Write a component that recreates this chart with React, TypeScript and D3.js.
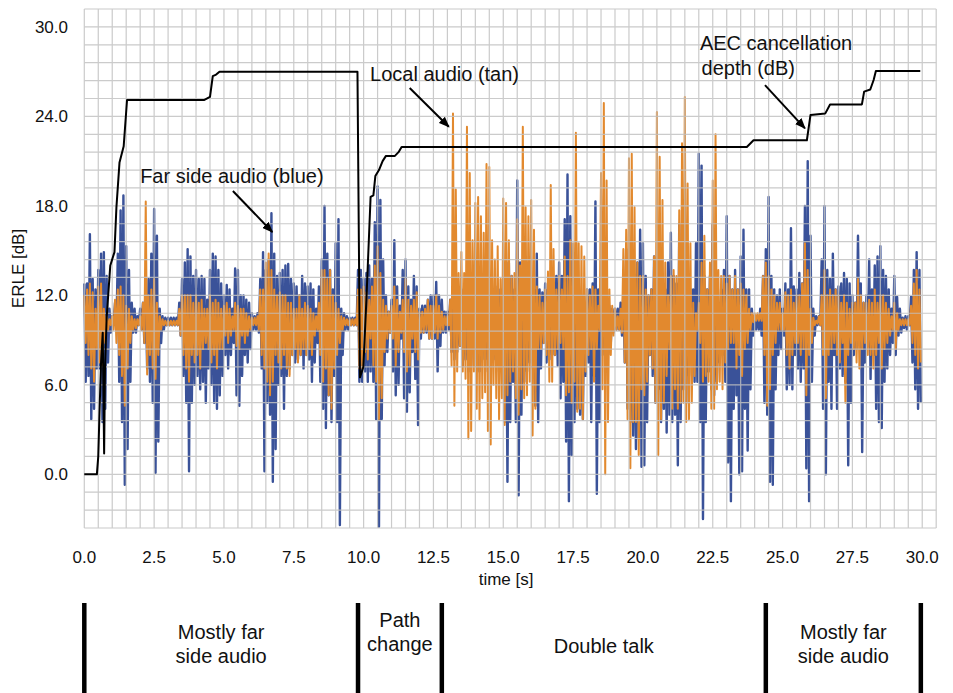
import * as d3 from 'd3';

// ERLE traces, one bin per 0.1 s: upper and lower excursion of the waveform in each bin
const STEP = 0.1;

const blueHi = [
  12.8, 12.8, 16.1, 13.1, 12.4, 13.7, 14.8, 14.9, 13.3, 11.1,
  10.6, 11.5, 14.8, 17.7, 18.7, 15.3, 13.7, 11.5, 11.1, 10.6,
  11.1, 11.5, 12.2, 13.1, 14.8, 17.8, 16.0, 11.1, 10.6, 10.5,
  10.5, 10.5, 10.5, 10.5, 11.5, 13.1, 14.2, 15.1, 14.6, 13.3,
  13.7, 13.1, 13.3, 13.1, 11.7, 13.7, 14.8, 14.6, 13.7, 12.8,
  12.0, 12.7, 12.4, 11.1, 13.8, 13.7, 12.0, 12.0, 11.7, 11.5,
  10.8, 10.6, 10.8, 13.1, 14.9, 13.7, 14.4, 17.5, 14.8, 13.3,
  13.5, 13.7, 14.0, 14.1, 13.1, 12.8, 12.6, 12.0, 13.3, 12.8,
  12.6, 12.8, 12.4, 11.1, 12.6, 14.4, 18.0, 14.8, 13.7, 12.4,
  15.5, 17.1, 11.1, 10.8, 10.6, 10.5, 10.5, 10.5, 13.7, 13.7,
  13.1, 13.5, 14.0, 13.1, 16.9, 19.3, 18.4, 14.4, 12.0, 10.9,
  11.7, 15.7, 12.6, 11.3, 13.7, 14.4, 12.6, 11.7, 13.3, 12.6,
  11.1, 11.3, 11.3, 11.7, 12.0, 12.0, 12.9, 12.0, 11.7, 10.9,
  10.9, 11.7, 12.4, 12.0, 11.7, 12.4, 12.0, 12.6, 12.4, 12.0,
  12.4, 12.6, 12.0, 12.4, 12.9, 12.6, 12.0, 12.4, 12.6, 12.4,
  12.4, 14.2, 14.2, 13.3, 12.4, 19.7, 14.2, 13.3, 12.4, 12.0,
  12.4, 12.4, 14.8, 12.4, 12.2, 12.8, 12.4, 12.0, 12.4, 13.3,
  14.2, 13.3, 17.1, 20.1, 17.3, 13.3, 13.3, 12.4, 12.0, 11.5,
  12.4, 12.4, 12.8, 18.3, 12.4, 12.4, 11.5, 12.4, 11.3, 11.1,
  11.1, 11.1, 11.5, 12.4, 15.1, 12.4, 13.3, 12.4, 14.2, 16.4,
  15.5, 13.3, 12.0, 12.4, 14.6, 13.3, 13.3, 12.8, 12.4, 14.2,
  16.2, 13.3, 12.8, 16.8, 12.4, 13.3, 13.7, 12.4, 12.4, 15.5,
  21.5, 20.7, 13.3, 12.4, 13.3, 16.8, 12.4, 11.5, 12.4, 13.7,
  17.3, 13.3, 12.4, 13.7, 12.4, 14.6, 16.4, 12.4, 12.4, 11.1,
  10.6, 10.6, 11.1, 13.3, 15.1, 18.6, 13.3, 12.4, 12.0, 12.4,
  11.1, 12.8, 12.4, 16.5, 12.6, 12.4, 13.5, 12.8, 18.0, 21.0,
  16.0, 11.1, 10.6, 10.6, 14.4, 18.0, 13.7, 13.1, 14.8, 12.4,
  12.6, 12.8, 13.5, 13.1, 12.8, 12.0, 11.5, 16.0, 12.8, 11.5,
  12.0, 14.4, 12.4, 14.0, 14.6, 15.3, 13.7, 13.3, 12.4, 11.1,
  13.3, 11.9, 11.1, 10.5, 10.6, 10.6, 11.9, 13.7, 14.9, 13.7,
];

const blueLo = [
  6.2, 6.6, 3.7, 4.4, 7.1, 7.1, 3.5, 4.4, 7.5, 9.5,
  10.0, 9.7, 6.2, 3.5, -0.7, 1.7, 6.2, 9.5, 9.5, 10.0,
  9.7, 8.8, 7.1, 6.2, 4.8, 0.1, 2.2, 8.8, 9.7, 10.0,
  10.0, 10.0, 10.0, 10.0, 9.3, 6.6, 4.8, 0.2, 4.8, 6.0,
  6.6, 5.7, 6.2, 4.8, 7.1, 6.0, 4.8, 4.4, 5.3, 6.6,
  8.0, 7.1, 8.0, 8.8, 5.3, 4.6, 6.6, 8.0, 7.5, 8.4,
  9.7, 9.7, 9.5, 7.1, 0.2, 4.8, 4.0, -0.5, 1.7, 6.0,
  6.6, 4.4, 6.6, 7.1, 8.0, 7.5, 7.7, 8.0, 7.1, 8.0,
  7.7, 6.2, 7.5, 8.8, 6.2, 4.4, 3.1, 5.3, 3.5, 6.6,
  3.5, -3.4, 8.0, 9.7, 9.7, 10.0, 10.0, 10.0, 6.2, 6.2,
  6.9, 6.2, 6.9, 6.2, 3.7, -3.5, 3.7, 7.3, 8.2, 9.5,
  6.9, 5.3, 6.0, 9.1, 5.1, 4.2, 5.5, 8.2, 6.4, 3.3,
  9.1, 9.5, 9.5, 9.1, 9.1, 9.1, 6.9, 8.6, 9.5, 9.5,
  9.7, 8.2, 7.7, 8.2, 8.6, 7.3, 7.7, 6.9, 7.3, 8.2,
  7.3, 6.9, 7.7, 7.7, 6.9, 6.4, 7.7, 7.3, 6.9, 7.3,
  3.5, -0.5, 3.5, 6.2, 3.5, -1.4, 4.0, 6.2, 6.9, 7.5,
  7.1, 4.6, 3.5, 7.1, 8.8, 7.5, 7.7, 8.0, 8.0, 7.3,
  5.1, 6.2, 2.2, -1.8, 1.3, 3.5, 4.4, 4.0, 3.7, 6.6,
  7.5, 3.5, 6.6, -1.3, 3.5, 8.0, 8.8, 8.0, 8.8, 9.5,
  9.7, 9.7, 9.3, 7.5, 4.4, 3.5, 2.6, 1.7, 2.4, 0.5,
  0.6, 3.5, 8.0, 6.6, 4.8, 5.7, 3.5, 4.4, 2.8, 4.0,
  3.5, 4.0, 0.6, 3.5, 5.7, 4.8, 6.6, 7.5, 6.2, 6.2,
  3.5, -3.0, 3.5, 6.9, 5.7, 5.3, 6.2, 7.5, 8.0, 6.2,
  0.8, -1.8, 4.4, 5.3, 0.0, 0.2, 4.4, 1.6, 5.7, 9.3,
  9.7, 9.7, 9.3, 4.8, 4.0, -0.5, -0.7, 5.7, 8.0, 8.4,
  9.3, 5.7, 6.0, 5.7, 8.0, 7.1, 6.2, 7.1, 0.4, -1.8,
  6.2, 9.3, 10.0, 10.0, 4.4, 0.0, 6.2, 4.4, 8.0, 4.4,
  7.1, 6.6, 6.2, 0.6, 4.8, 8.0, 8.4, 8.8, 1.5, 7.5,
  8.8, 6.4, 8.0, 4.4, 3.5, 3.1, 6.2, 7.1, 8.0, 8.8,
  8.0, 9.3, 9.5, 9.8, 9.7, 10.0, 7.5, 5.7, 4.4, 4.8,
];

const tanHi = [
  12.0, 12.4, 12.8, 12.2, 11.1, 12.6, 12.8, 11.1, 10.6, 10.4,
  10.6, 11.7, 12.4, 12.6, 12.0, 11.3, 11.1, 10.6, 10.4, 10.4,
  10.6, 11.5, 18.3, 12.0, 12.4, 13.1, 11.5, 10.6, 10.4, 10.3,
  10.3, 10.3, 10.3, 10.3, 11.1, 12.0, 12.0, 12.0, 12.0, 11.5,
  12.0, 11.5, 11.7, 11.1, 11.1, 12.0, 11.5, 11.7, 11.5, 11.1,
  11.3, 11.5, 11.1, 10.6, 11.5, 11.3, 11.1, 11.1, 10.8, 10.6,
  10.5, 10.5, 10.6, 12.4, 12.4, 14.2, 14.8, 13.7, 12.4, 12.0,
  12.2, 12.0, 12.0, 11.5, 11.5, 11.1, 11.1, 12.0, 11.1, 11.5,
  11.3, 11.1, 10.8, 10.6, 11.5, 13.7, 13.7, 13.1, 13.7, 12.0,
  11.5, 11.1, 10.6, 10.5, 10.4, 10.4, 10.4, 10.4, 12.4, 12.4,
  12.6, 12.2, 11.7, 12.6, 14.0, 15.3, 13.5, 11.7, 11.3, 10.9,
  11.3, 12.6, 11.7, 10.9, 11.7, 13.1, 11.7, 11.3, 11.7, 12.2,
  10.9, 10.9, 11.1, 11.7, 11.3, 11.3, 12.0, 11.3, 10.9, 10.6,
  10.6, 11.7, 24.2, 19.1, 13.5, 14.9, 13.5, 23.3, 20.2, 15.7,
  18.2, 18.6, 17.3, 16.2, 20.8, 20.6, 15.7, 14.4, 15.3, 13.1,
  18.5, 18.2, 15.7, 13.3, 13.5, 17.1, 14.0, 23.3, 17.9, 17.3,
  18.4, 16.4, 12.6, 12.0, 11.5, 12.4, 13.6, 19.4, 15.1, 12.4,
  13.3, 12.4, 14.6, 13.3, 15.7, 15.5, 22.9, 15.5, 15.3, 14.6,
  12.4, 12.0, 12.6, 12.4, 11.3, 20.2, 24.9, 19.7, 12.4, 11.3,
  11.1, 10.6, 11.1, 15.1, 16.4, 21.2, 21.5, 17.9, 14.2, 13.3,
  13.3, 12.4, 12.0, 12.4, 14.6, 24.3, 21.3, 18.4, 14.2, 12.0,
  13.3, 13.7, 13.3, 17.7, 22.2, 25.3, 19.5, 15.5, 11.5, 10.8,
  11.5, 14.2, 16.0, 12.4, 14.2, 19.7, 22.8, 13.7, 13.3, 13.3,
  12.8, 13.3, 12.4, 13.3, 12.4, 12.8, 12.4, 12.0, 11.1, 10.8,
  10.8, 10.8, 10.8, 13.3, 14.2, 13.3, 12.4, 12.0, 11.5, 11.5,
  10.8, 12.2, 12.0, 12.4, 11.5, 12.0, 12.0, 12.8, 15.5, 13.7,
  11.1, 10.5, 10.3, 10.6, 12.0, 13.7, 12.0, 12.4, 12.0, 12.4,
  12.0, 11.5, 12.0, 11.5, 11.1, 11.5, 11.5, 13.1, 12.0, 11.5,
  11.5, 11.7, 11.5, 12.4, 11.5, 12.0, 12.0, 11.5, 11.1, 10.6,
  11.5, 10.8, 10.4, 10.4, 10.4, 10.4, 11.3, 12.8, 13.7, 12.4,
];

const tanLo = [
  8.8, 8.0, 7.1, 6.2, 8.4, 7.5, 7.3, 8.8, 9.7, 10.0,
  9.7, 8.8, 8.0, 6.6, 4.6, 7.1, 8.8, 9.7, 9.8, 10.0,
  9.7, 8.8, 6.7, 8.0, 7.1, 6.4, 8.0, 9.7, 10.0, 10.0,
  10.0, 10.0, 10.0, 10.0, 9.3, 8.0, 7.1, 6.2, 8.0, 7.5,
  8.0, 7.1, 8.4, 8.8, 8.4, 7.5, 8.0, 7.1, 8.4, 8.4,
  9.3, 8.8, 9.3, 9.7, 8.6, 8.4, 9.3, 8.8, 9.3, 9.7,
  10.0, 10.0, 9.7, 8.0, 7.1, 6.2, 5.3, 6.2, 8.0, 7.5,
  7.1, 8.0, 7.1, 6.6, 8.0, 8.4, 7.5, 8.0, 8.4, 8.0,
  8.4, 8.0, 9.3, 9.7, 8.0, 6.2, 7.1, 5.3, 4.4, 7.1,
  8.0, 8.8, 9.7, 10.0, 10.0, 10.0, 10.0, 10.0, 7.1, 7.1,
  8.2, 7.7, 9.1, 7.3, 6.2, 3.7, 5.1, 8.2, 9.1, 9.5,
  9.1, 7.3, 8.2, 9.5, 8.2, 6.9, 7.3, 9.1, 8.2, 7.7,
  9.5, 9.5, 9.7, 9.1, 9.1, 9.5, 9.1, 9.5, 9.7, 10.0,
  10.0, 7.3, 4.6, 6.9, 8.6, 6.9, 6.4, 2.4, 2.9, 6.9,
  4.4, 3.7, 5.1, 5.5, 2.9, 2.0, 6.0, 5.1, 3.7, 5.1,
  3.3, 5.3, 6.2, 6.9, 5.1, 4.0, 5.7, 5.1, 5.3, 6.2,
  2.6, 4.4, 8.4, 8.4, 8.8, 8.0, 6.2, 6.2, 8.0, 8.4,
  8.8, 8.4, 5.3, 5.5, 4.8, 6.2, 4.2, 4.4, 3.7, 6.9,
  8.0, 8.4, 6.2, 8.4, 9.7, 5.7, 0.0, 3.5, 8.0, 9.3,
  9.7, 9.7, 9.5, 7.5, 3.7, 0.4, 3.5, 3.5, 1.3, 5.7,
  5.3, 6.2, 8.0, 7.1, 4.8, 1.3, 3.7, 4.8, 6.6, 8.4,
  4.4, 5.7, 4.4, 4.8, 4.8, 3.5, 3.7, 4.8, 6.6, 9.7,
  8.8, 6.2, 6.6, 6.2, 4.4, 4.4, 5.7, 6.2, 5.7, 7.5,
  8.4, 8.8, 8.8, 7.1, 8.0, 6.6, 8.4, 8.8, 9.7, 10.2,
  10.3, 10.3, 10.3, 8.0, 4.6, 5.7, 8.0, 8.8, 9.7, 9.7,
  9.7, 8.0, 7.1, 8.0, 8.8, 8.8, 8.0, 8.4, 5.3, 8.0,
  8.8, 10.0, 10.1, 10.0, 8.0, 5.1, 8.0, 8.4, 8.8, 8.0,
  7.5, 8.8, 4.8, 8.0, 8.8, 8.4, 7.5, 7.1, 8.4, 8.8,
  8.0, 8.0, 7.1, 8.0, 8.8, 7.1, 8.4, 8.8, 9.3, 9.7,
  8.4, 9.7, 10.0, 10.0, 10.0, 10.0, 8.8, 8.0, 7.1, 7.5,
];

// AEC cancellation depth (black line)
const aecTime = [
  0, 0.45, 0.5, 0.55, 0.6, 0.66, 0.71, 0.74, 0.8, 0.93, 1.08, 1.15, 1.26, 1.41, 1.53,
  4.3, 4.5, 4.6, 4.72, 4.84, 9.78, 9.87, 9.99, 10.1, 10.25, 10.35, 10.42, 10.55,
  10.68, 10.8, 11.12, 11.25, 11.36, 23.72, 23.96, 25.87, 26.0, 26.53, 26.7, 27.84,
  27.92, 28.14, 28.26, 28.34, 29.93,
];
const aecDb = [
  0, 0, 1.2, 4.5, 7.5, 9.5, 1.4, 7.0, 10.5, 14.0, 14.9, 17.9, 20.9, 22.0, 25.1,
  25.1, 25.3, 26.7, 26.8, 27.0, 27.0, 6.5, 7.2, 11.7, 18.6, 18.7, 20.0, 20.4,
  21.0, 21.35, 21.35, 21.6, 21.95, 21.95, 22.4, 22.4, 24.1, 24.2, 24.8, 24.8,
  25.66, 25.8, 26.44, 27.04, 27.04,
];

const xTickValues = [0, 2.5, 5, 7.5, 10, 12.5, 15, 17.5, 20, 22.5, 25, 27.5, 30];
const yTickValues = [0, 6, 12, 18, 24, 30];

// phases shown under the chart
const phaseEdges = [0, 9.8, 12.8, 24.4, 29.95];
const phaseLabels = [
  ['Mostly far', 'side audio'],
  ['Path', 'change'],
  ['Double talk'],
  ['Mostly far', 'side audio'],
];

const FONT = '"Liberation Sans", Arial, Helvetica, sans-serif';
const BLUE = '#3a5299';
const TAN = '#e2892e';
const GRID = '#c2c2c2';

function tracePoints(hi: number[], lo: number[]) {
  return hi.flatMap((h, i) => [
    { t: i * STEP, v: h },
    { t: i * STEP + STEP / 2, v: lo[i] },
  ]);
}

export default function App() {
  const width = 953;
  const height = 693;
  const x = d3.scaleLinear().domain([0, 30.5]).range([84.3, 936.2]);
  const y = d3.scaleLinear().domain([-3.6, 31.2]).range([528, 9]);

  const gridX = d3.range(0, 62).map((i) => i * 0.5);
  const gridY = d3.range(0, 30).map((i) => -3.6 + i * 1.2);

  const line = d3
    .line<{ t: number; v: number }>()
    .x((d) => x(d.t))
    .y((d) => y(d.v));

  const bluePath = line(tracePoints(blueHi, blueLo)) ?? undefined;
  const tanPath = line(tracePoints(tanHi, tanLo)) ?? undefined;
  const aecPath = line(aecTime.map((t, i) => ({ t, v: aecDb[i] }))) ?? undefined;

  const [x0, x1] = x.range();
  const [y0, y1] = y.range();

  const annFont = { fontFamily: FONT, fontSize: 20, fill: '#111' };

  return (
    <svg
      width={width}
      height={height}
      style={{ position: 'absolute', left: 0, top: 0, background: '#fff' }}
    >
      <defs>
        <marker
          id="arrow"
          viewBox="0 0 10 8"
          refX={9}
          refY={4}
          markerWidth={5.5}
          markerHeight={4.4}
          orient="auto"
        >
          <path d="M0,0 L10,4 L0,8 z" fill="#000" />
        </marker>
      </defs>

      {/* waveforms */}
      <path d={bluePath} fill="none" stroke={BLUE} strokeWidth={2.4} strokeLinejoin="round" />
      <path d={tanPath} fill="none" stroke={TAN} strokeWidth={2} strokeLinejoin="round" />

      {/* grid sits on top of the traces */}
      <g opacity={0.85}>
        {gridX.map((t) => (
          <line key={`gx-${t}`} x1={x(t)} x2={x(t)} y1={y1} y2={y0} stroke={GRID} strokeWidth={1.2} />
        ))}
        {gridY.map((v) => (
          <line key={`gy-${v}`} x1={x0} x2={x1} y1={y(v)} y2={y(v)} stroke={GRID} strokeWidth={1.2} />
        ))}
      </g>

      <path d={aecPath} fill="none" stroke="#000" strokeWidth={2} strokeLinejoin="round" />

      {/* y ticks */}
      {yTickValues.map((v) => (
        <text
          key={`yt-${v}`}
          x={68}
          y={y(v)}
          dy="0.36em"
          textAnchor="end"
          fontFamily={FONT}
          fontSize={17}
          fill="#111"
        >
          {v.toFixed(1)}
        </text>
      ))}
      {/* x ticks */}
      {xTickValues.map((t) => (
        <text
          key={`xt-${t}`}
          x={x(t)}
          y={563}
          textAnchor="middle"
          fontFamily={FONT}
          fontSize={17}
          fill="#111"
        >
          {t.toFixed(1)}
        </text>
      ))}
      <text
        x={0}
        y={0}
        transform={`translate(24, ${(y0 + y1) / 2}) rotate(-90)`}
        textAnchor="middle"
        fontFamily={FONT}
        fontSize={17}
        fill="#111"
      >
        ERLE [dB]
      </text>
      <text x={x(15.1)} y={585} textAnchor="middle" fontFamily={FONT} fontSize={17} fill="#111">
        time [s]
      </text>

      {/* annotations */}
      <text x={x(2.0)} y={y(19.55)} {...annFont}>
        Far side audio (blue)
      </text>
      <line
        x1={x(5.32)}
        y1={y(19.0)}
        x2={x(6.73)}
        y2={y(16.25)}
        stroke="#000"
        strokeWidth={2}
        markerEnd="url(#arrow)"
      />
      <text x={x(10.23)} y={y(26.4)} {...annFont}>
        Local audio (tan)
      </text>
      <line
        x1={x(11.65)}
        y1={y(25.9)}
        x2={x(13.05)}
        y2={y(23.3)}
        stroke="#000"
        strokeWidth={2}
        markerEnd="url(#arrow)"
      />
      <text x={x(22.04)} y={y(28.45)} {...annFont}>
        AEC cancellation
      </text>
      <text x={x(22.1)} y={y(26.8)} {...annFont}>
        depth (dB)
      </text>
      <line
        x1={x(24.37)}
        y1={y(26.1)}
        x2={x(25.8)}
        y2={y(23.2)}
        stroke="#000"
        strokeWidth={2}
        markerEnd="url(#arrow)"
      />

      {/* phase bars */}
      {phaseEdges.map((t) => (
        <line key={`pb-${t}`} x1={x(t)} x2={x(t)} y1={603} y2={693} stroke="#000" strokeWidth={4.5} />
      ))}
      {phaseLabels.map((lines, i) => {
        const cx = (x(phaseEdges[i]) + x(phaseEdges[i + 1])) / 2;
        const top = lines.length === 1 ? 653 : i === 1 ? 627 : 639;
        return (
          <text key={`pl-${i}`} textAnchor="middle" fontFamily={FONT} fontSize={20} fill="#111">
            {lines.map((s, j) => (
              <tspan key={j} x={cx} y={top + j * 24}>
                {s}
              </tspan>
            ))}
          </text>
        );
      })}
    </svg>
  );
}
